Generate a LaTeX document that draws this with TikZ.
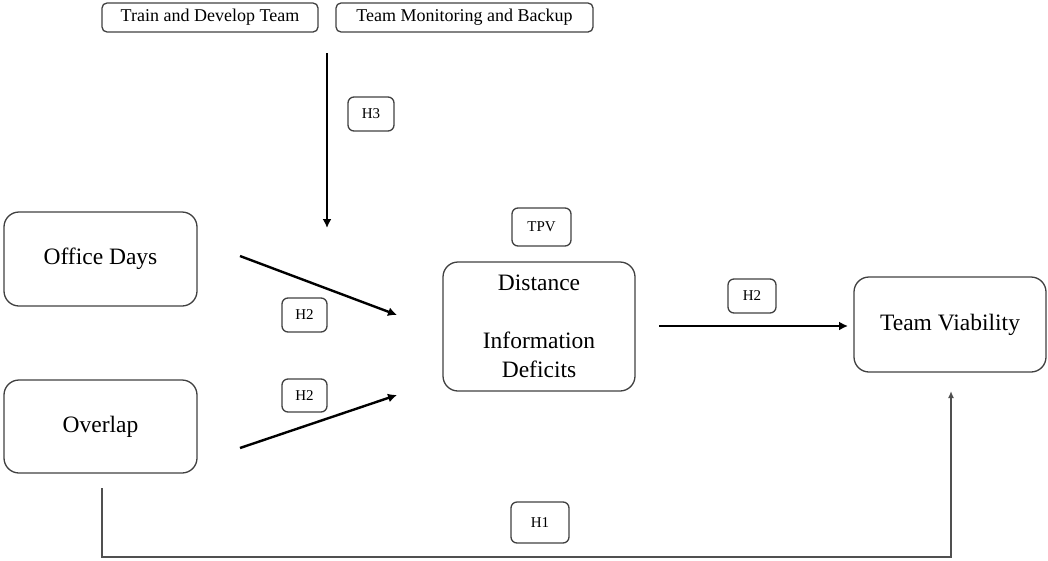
\documentclass[tikz,border=0pt]{standalone}
\usepackage{fontspec}
\setmainfont{Liberation Serif}
\usetikzlibrary{arrows.meta}
\definecolor{bord}{HTML}{404040}
\definecolor{lin}{HTML}{505050}
\tikzset{
  bigbox/.style={draw=bord, line width=1.3pt, rounded corners=15pt, align=center,
     font=\fontsize{23.5}{29}\selectfont, inner sep=0pt},
  topbox/.style={draw=bord, line width=1.3pt, rounded corners=5pt,
     font=\fontsize{18}{20}\selectfont, inner sep=0pt},
  hbox/.style={draw=bord, line width=1.3pt, rounded corners=6pt,
     font=\fontsize{15}{17}\selectfont, inner sep=0pt},
  thickarrow/.style={line width=2.4pt, -{Latex[length=9pt,width=9pt]}},
  thinarrow/.style={draw=lin, line width=1.6pt, -{Latex[length=7pt,width=6pt]}}
}
\begin{document}
\begin{tikzpicture}[x=1pt,y=-1pt]
\useasboundingbox (0,0) rectangle (1048,560);
% top labels
\node[topbox, minimum width=216pt, minimum height=29pt] (tdt) at (210,17.5) {Train and Develop Team};
\node[topbox, minimum width=257pt, minimum height=29pt] (tmb) at (464.5,17.5) {Team Monitoring and Backup};
% main boxes
\node[bigbox, minimum width=193pt, minimum height=94pt] (office) at (100.5,259) {Office Days};
\node[bigbox, minimum width=193pt, minimum height=93pt] (overlap) at (100.5,426.5) {Overlap};
\node[bigbox, minimum width=192pt, minimum height=129pt] (dist) at (539,326.5) {Distance\\[29pt]Information\\Deficits};
\node[bigbox, minimum width=192pt, minimum height=95pt] (tv) at (950,324.5) {Team Viability};
% hypothesis labels
\node[hbox, minimum width=46pt, minimum height=34pt] (h3) at (371,114) {H3};
\node[hbox, minimum width=45pt, minimum height=34pt] (h2a) at (304.5,315) {H2};
\node[hbox, minimum width=45pt, minimum height=33pt] (h2b) at (304.5,395.5) {H2};
\node[hbox, minimum width=59pt, minimum height=38pt] (tpv) at (541.5,227) {TPV};
\node[hbox, minimum width=48pt, minimum height=34pt] (h2c) at (752,296) {H2};
\node[hbox, minimum width=58pt, minimum height=41pt] (h1) at (540,522.5) {H1};
% connector end points
\coordinate (h3s) at (327,53);
\coordinate (h3e) at (327,228);
\coordinate (o1s) at (240,256);
\coordinate (o1e) at (397,315);
\coordinate (o2s) at (240,448);
\coordinate (o2e) at (397,395);
\coordinate (ds) at (659,326);
\coordinate (de) at (848,326);
\coordinate (p1) at (102,488);
\coordinate (p2) at (102,557);
\coordinate (p3) at (951,557);
\coordinate (p4) at (951,391);
% connectors
\draw[thickarrow] (h3s) -- (h3e);
\draw[thickarrow] (o1s) -- (o1e);
\draw[thickarrow] (o2s) -- (o2e);
\draw[thickarrow] (ds) -- (de);
\draw[thinarrow] (p1) -- (p2) -- (p3) -- (p4);
\end{tikzpicture}
\end{document}
